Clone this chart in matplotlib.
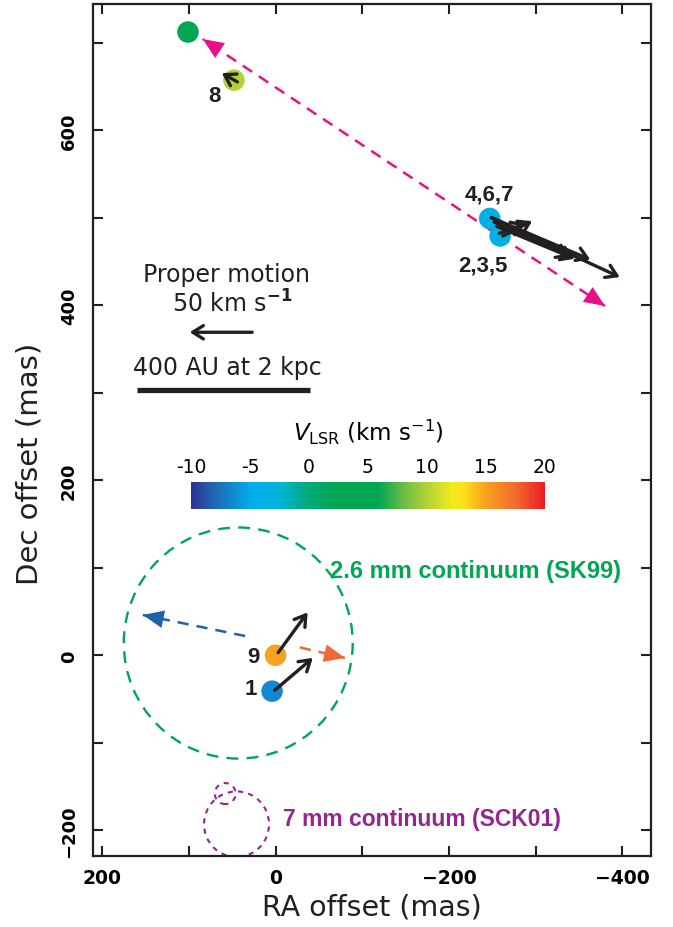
import numpy as np
import matplotlib.pyplot as plt
from matplotlib.colors import LinearSegmentedColormap, Normalize
from matplotlib.cm import ScalarMappable
from matplotlib.patches import Circle
from matplotlib.ticker import MultipleLocator

# maser spots: RA offset, Dec offset (mas), VLSR (km/s)
spot_ra = [101, 48, -247, -259, 0, 4]
spot_dec = [712, 657, 499, 479, 0, -41]
spot_vlsr = [4.0, 10.0, -3.8, -3.8, 15.0, -6.5]

# spot labels
label_text = ['8', '4,6,7', '2,3,5', '9', '1']
label_ra = [71, -247, -239, 26, 28]
label_dec = [639, 527, 446, -1, -38]

# proper motion vectors (start -> end, mas)
pm_x0 = [44, -249, -249, -252, -255, -262, -258, -3, 1]
pm_y0 = [655, 500, 500, 495, 490, 479, 482, 3, -40]
pm_x1 = [62, -397, -363, -340, -345, -296, -288, -37, -43]
pm_y1 = [665, 432, 452, 455, 453, 496, 493, 49, -3]

# dashed outflow arrows
jet_pink = [(-380, 399), (84, 704)]
jet_blue = [(35, 22), (153, 46)]
jet_red = [(-28, 9), (-80, -3)]

# continuum sources
cont_26mm = (43, 14, 132)
cont_7mm = [(45, -193, 37.5), (58, -158, 12)]

cb_ticks = [-10, -5, 0, 5, 10, 15, 20]

# colour scale of the VLSR bar
cmap = LinearSegmentedColormap.from_list('vlsr', [
    (0.0, '#2E3192'), (0.06, '#1F66B0'), (0.17, '#00AEEF'), (0.25, '#00B3D8'),
    (0.33, '#00AA7A'), (0.40, '#00A651'), (0.53, '#00A651'), (0.60, '#6ABD45'),
    (0.67, '#B5D334'), (0.74, '#F2EB1D'), (0.77, '#FDE21A'), (0.83, '#F7A51F'),
    (0.92, '#F26A2C'), (1.0, '#ED1C24')])
norm = Normalize(-10, 20)

fig = plt.figure(figsize=(6.73, 9.28), dpi=100)
ax = fig.add_axes([0.1382, 0.0768, 0.8291, 0.9178])
ax.set_xlim(210.5, -433)
ax.set_ylim(-229, 744)

# continuum contours
cx, cy, cr = cont_26mm
ax.add_patch(Circle((cx, cy), cr, fill=False, ec='#00A651', lw=1.7, ls=(0, (5, 3.5))))
for (px, py, pr) in cont_7mm:
    ax.add_patch(Circle((px, py), pr, fill=False, ec='#92278F', lw=1.5, ls=(0, (2.5, 2.5))))


def dashed_arrow(p0, p1, color, heads=1):
    p0 = np.array(p0, float)
    p1 = np.array(p1, float)
    d = (p1 - p0) / np.hypot(*(p1 - p0))
    ax.plot([p0[0], p1[0]], [p0[1], p1[1]], color=color, lw=1.8, ls=(0, (4.5, 3.2)))
    ends = [(p1, d)] if heads == 1 else [(p1, d), (p0, -d)]
    for tip, dd in ends:
        ax.annotate('', xy=tip, xytext=tip - 3 * dd,
                    arrowprops=dict(arrowstyle='-|>,head_length=0.75,head_width=0.32',
                                    color=color, lw=0, mutation_scale=20,
                                    shrinkA=0, shrinkB=0))


dashed_arrow(jet_pink[0], jet_pink[1], '#E8108A', heads=2)
dashed_arrow(jet_blue[0], jet_blue[1], '#1F5FAD')
dashed_arrow(jet_red[0], jet_red[1], '#F26534')

# spots
ax.scatter(spot_ra, spot_dec, s=240, c=spot_vlsr, cmap=cmap, norm=norm,
           edgecolors='none', zorder=3)

# proper motions
pm_style = dict(arrowstyle='->,head_length=0.38,head_width=0.24', color='#231F20',
                lw=2.4, mutation_scale=20, shrinkA=0, shrinkB=0)
for x0, y0, x1, y1 in zip(pm_x0, pm_y0, pm_x1, pm_y1):
    ax.annotate('', xy=(x1, y1), xytext=(x0, y0), arrowprops=pm_style, zorder=4)

for t, x, y in zip(label_text, label_ra, label_dec):
    ax.text(x, y, t, fontsize=16, fontweight='bold', family='Liberation Sans',
            color='#231F20', ha='center', va='center')

# scale indicators
ax.text(57, 435, 'Proper motion', fontsize=17, ha='center', va='center', color='#231F20')
ax.text(50, 403, r'50 km s$^{\mathbf{-1}}$', fontsize=17, ha='center', va='center', color='#231F20')
ax.annotate('', xy=(99, 369), xytext=(27, 369), arrowprops=pm_style)
ax.text(55, 329, '400 AU at 2 kpc', fontsize=17, ha='center', va='center', color='#231F20')
ax.plot([160, -40], [303, 303], color='#231F20', lw=3.8, solid_capstyle='butt')

ax.text(-63, 97, '2.6 mm continuum (SK99)', fontsize=17, fontweight='bold',
        family='Liberation Sans', color='#00A651', ha='left', va='center')
ax.text(-9, -187, '7 mm continuum (SCK01)', fontsize=16.5, fontweight='bold',
        family='Liberation Sans', color='#92278F', ha='left', va='center')

# axes styling
for sp in ax.spines.values():
    sp.set_linewidth(1.6)
    sp.set_color('#231F20')
ax.xaxis.set_major_locator(MultipleLocator(200))
ax.xaxis.set_minor_locator(MultipleLocator(100))
ax.yaxis.set_major_locator(MultipleLocator(200))
ax.yaxis.set_minor_locator(MultipleLocator(100))
ax.tick_params(which='both', direction='in', top=True, right=True, length=7,
               width=1.5, color='#231F20')
ax.tick_params(axis='x', which='major', labelsize=13.5, pad=9)
ax.tick_params(axis='y', which='major', labelsize=13, pad=11, labelrotation=90)
for lab in ax.get_xticklabels() + ax.get_yticklabels():
    lab.set_fontweight('bold')
for lab in ax.get_yticklabels():
    lab.set_va('center')

ax.set_xlabel('RA offset (mas)', fontsize=20.5, labelpad=4, color='#231F20')
ax.set_ylabel('Dec offset (mas)', fontsize=21, color='#231F20')
ax.yaxis.set_label_coords(-0.088, 0.461)

# VLSR colour bar
cax = fig.add_axes([0.2838, 0.4504, 0.526, 0.0291])
cb = fig.colorbar(ScalarMappable(norm=norm, cmap=cmap), cax=cax, orientation='horizontal')
cb.outline.set_visible(False)
cax.xaxis.set_ticks_position('top')
cb.set_ticks(cb_ticks)
cb.set_ticklabels([str(v) for v in cb_ticks])
cax.tick_params(length=0, labelsize=13.5, pad=4)
cax.set_title(r'$V_{\rm LSR}$ (km s$^{-1}$)', fontsize=16.5, pad=30)

fig.savefig('out.png', dpi=100)
